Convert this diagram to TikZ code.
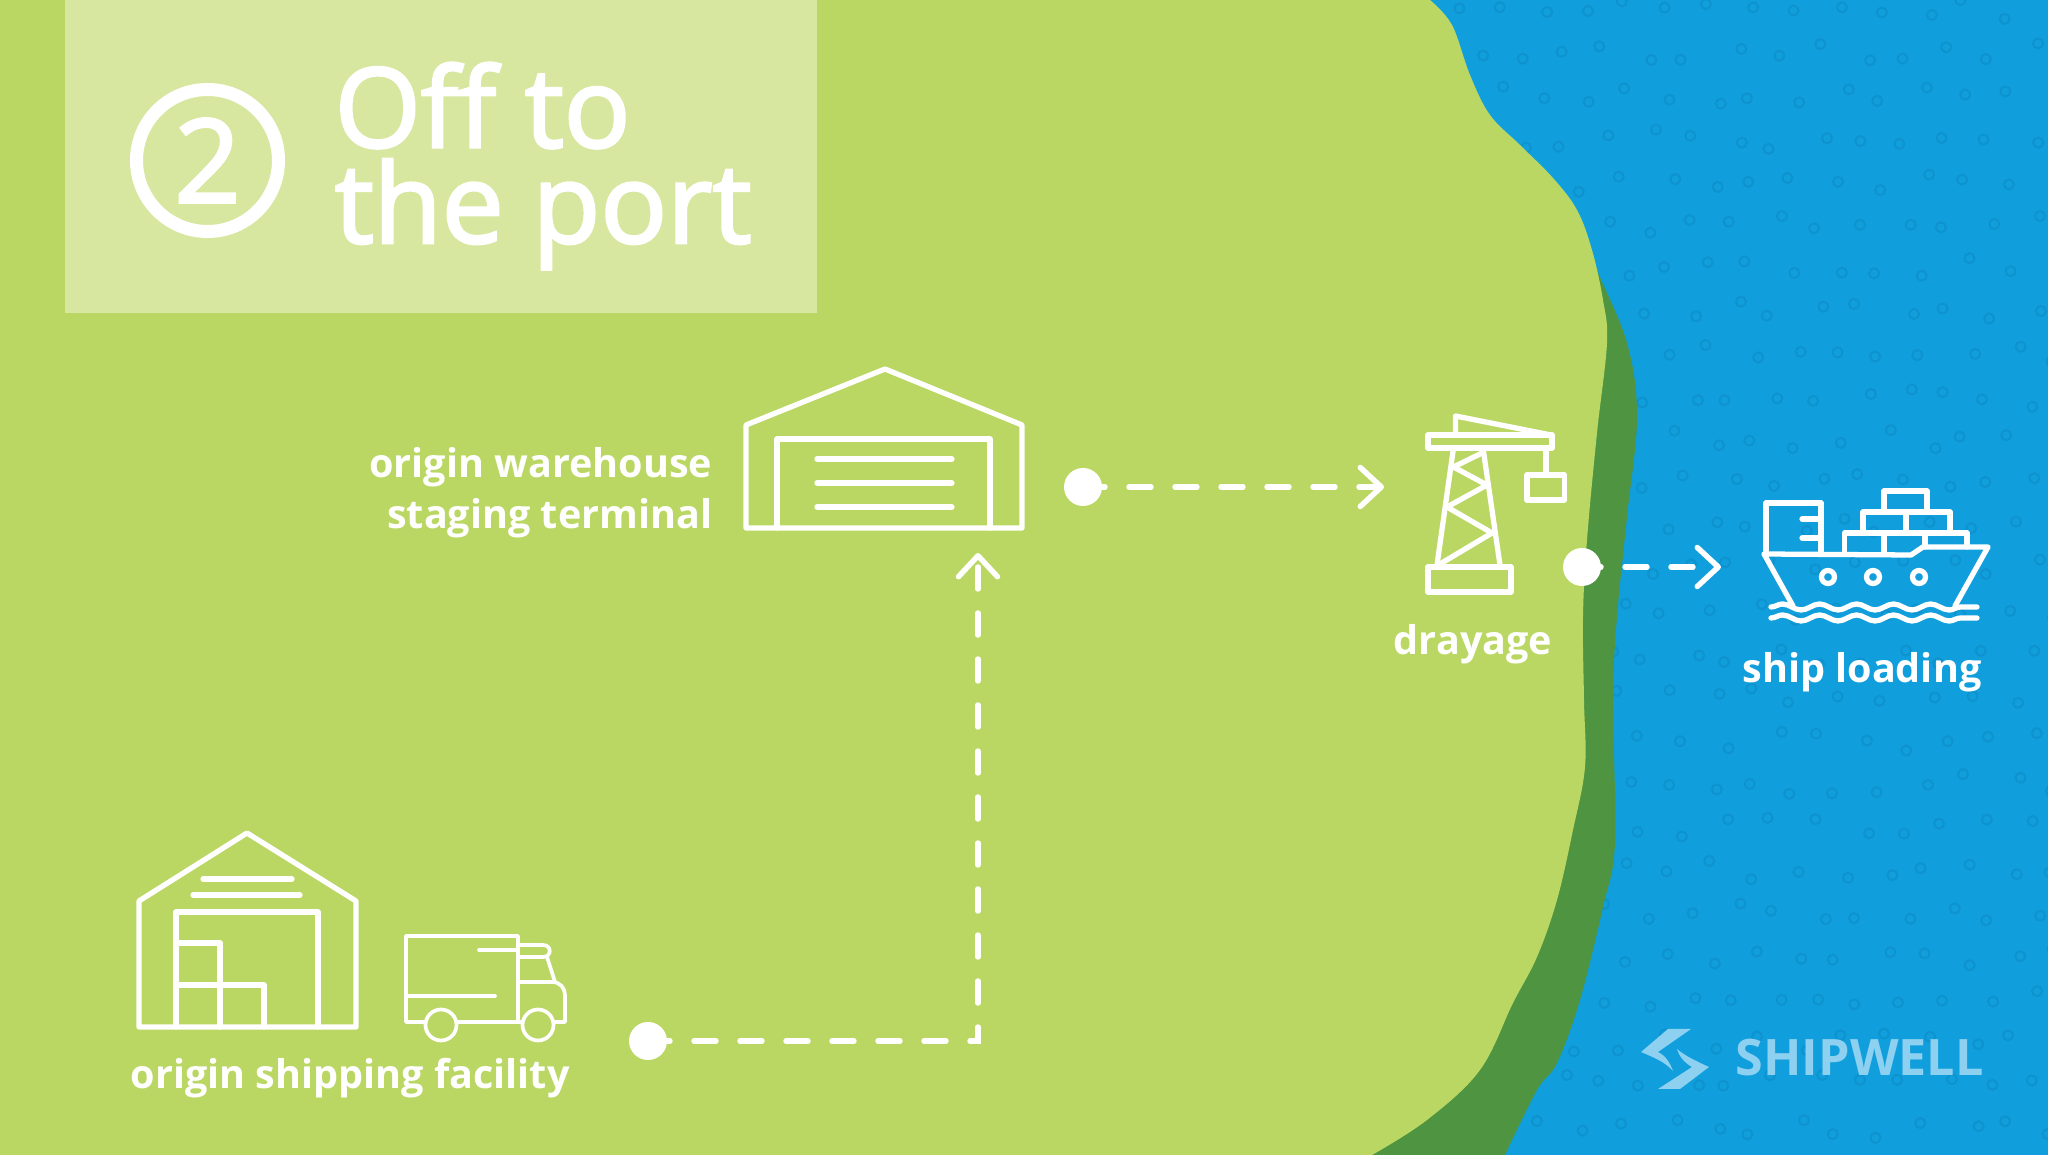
\documentclass[tikz,border=0pt]{standalone}
\usepackage{fontspec}
\setmainfont{Open Sans}
\newfontfamily\headfont[RawFeature={embolden=2.4}]{Open Sans}
\usetikzlibrary{arrows.meta,decorations.pathmorphing}
\definecolor{landlime}{HTML}{BBD763}
\definecolor{landdark}{HTML}{4E9441}
\definecolor{seablue}{HTML}{109FDC}
\definecolor{seadot}{HTML}{0E93CF}
\definecolor{panelpale}{HTML}{D7E79F}
\definecolor{logoblue}{HTML}{8ED0F0}
\tikzset{
  wire/.style={draw=white,line width=1.5pt,line join=round,line cap=round},
  thinwire/.style={draw=white,line width=1.05pt,line join=round,line cap=round},
  flow/.style={draw=white,line width=1.55pt,line cap=round,dash pattern=on 2.2mm off 2.4mm,
               -{Straight Barb[length=2.1mm,width=3.9mm,round]}},
  dot/.style={circle,fill=white,minimum size=3.8mm,inner sep=0},
  lab/.style={text=white,inner sep=0,font=\fontsize{11.25}{14.5}\selectfont\bfseries},
  heading/.style={text=white,inner sep=0,font=\headfont\fontsize{31.5}{27.2}\selectfont,align=left,anchor=base west},
}
\begin{document}
\begin{tikzpicture}[y=-1cm]
  \useasboundingbox (0,0) rectangle (20.48,11.55);
  % sea with its faint rings
  \fill[seablue] (0,0) rectangle (20.48,11.55);
  \pgfmathsetseed{11}
  \foreach \i in {0,...,17}{
    \foreach \j in {0,...,27}{
      \pgfmathsetmacro{\ringx}{14.1+0.43*\i+0.215*mod(\j,2)+0.2*rand*0.5}
      \pgfmathsetmacro{\ringy}{0.1+0.43*\j+0.2*rand*0.5}
      \draw[seadot,line width=0.6pt] (\ringx,\ringy) circle (0.05);
    }
  }
  % land: dark rim first, lime on top
  \fill[landdark] (13,2.4) -- (15.92,2.5) -- plot[smooth,tension=0.6] coordinates {(15.92,2.5) (15.97,2.7) (16.27,3.43)
    (16.37,4.17) (16.27,5.17) (16.17,6.17) (16.13,7.0) (16.15,8.43) (16.03,9.07) (15.80,10.0)
    (15.57,10.63) (15.37,10.9) (15.05,11.55)} -- (13,11.55) -- cycle;
  \fill[landlime] (0,0) -- (14.3,0) -- plot[smooth,tension=0.6] coordinates {(14.3,0) (14.52,0.25) (14.70,0.75)
    (14.90,1.15) (15.20,1.45) (15.53,1.78) (15.77,2.10) (15.92,2.50) (16.03,3.0) (16.07,3.43)
    (15.97,4.33) (15.87,5.40) (15.83,6.17) (15.84,7.0) (15.85,7.67) (15.73,8.30) (15.57,9.0)
    (15.37,9.57) (15.13,10.03) (14.80,10.70) (14.27,11.20) (13.72,11.55)} -- (0,11.55) -- cycle;
  % title panel
  \fill[panelpale] (0.65,0) rectangle (8.17,3.13);
  \node[circle,draw=white,line width=3.7pt,minimum size=14.2mm,inner sep=0,text=white,
        font=\headfont\fontsize{33}{33}\selectfont] (stepnum) at (2.075,1.605) {2};
  \node[heading] (title) at (3.34,2.43) {Off to\\the port};

  % origin warehouse with its door and slats
  \draw[wire] (7.46,5.28) -- (7.46,4.25) -- (8.85,3.69) -- (10.22,4.25) -- (10.22,5.28) -- cycle;
  \draw[wire] (7.77,5.28) -- (7.77,4.39) -- (9.90,4.39) -- (9.90,5.28);
  \foreach \slat in {4.59,4.83,5.07}{
    \draw[wire] (8.17,\slat) -- (9.52,\slat);
  }
  \node[lab,anchor=base east] (wareone) at (7.13,4.78) {origin warehouse};
  \node[lab,anchor=base east] (waretwo) at (7.13,5.29) {staging terminal};

  % origin shipping facility with boxes
  \draw[wire] (1.39,10.27) -- (1.39,9.01) -- (2.47,8.33) -- (3.56,9.01) -- (3.56,10.27) -- cycle;
  \draw[wire] (1.76,10.27) -- (1.76,9.12) -- (3.18,9.12) -- (3.18,10.27);
  \draw[wire] (2.03,8.79) -- (2.92,8.79);
  \draw[wire] (1.93,8.95) -- (3.00,8.95);
  \draw[wire] (1.76,9.43) -- (2.20,9.43) -- (2.20,10.27);
  \draw[wire] (1.76,9.85) -- (2.64,9.85) -- (2.64,10.27);

  % truck
  \draw[thinwire] (4.25,10.22) -- (4.06,10.22) -- (4.06,9.36) -- (5.18,9.36) -- (5.18,10.22);
  \draw[thinwire] (4.57,10.22) -- (5.22,10.22);
  \draw[thinwire] (4.79,9.50) -- (5.18,9.50);
  \draw[thinwire] (4.06,9.96) -- (4.95,9.96);
  \draw[thinwire] (5.18,9.45) -- (5.43,9.45) .. controls (5.52,9.45) and (5.52,9.57) .. (5.43,9.57) -- (5.18,9.57);
  \draw[thinwire] (5.47,9.57) -- (5.55,9.82);
  \draw[thinwire] (5.18,9.82) -- (5.52,9.82) .. controls (5.60,9.82) and (5.65,9.88) .. (5.65,9.95) -- (5.65,10.22) -- (5.54,10.22);
  \draw[thinwire,fill=landlime] (4.41,10.25) circle (0.155);
  \draw[thinwire,fill=landlime] (5.38,10.25) circle (0.155);
  \node[lab,anchor=base west] (originlab) at (1.30,10.89) {origin shipping facility};

  % crane
  \draw[wire] (14.28,4.35) rectangle (15.52,4.48);
  \draw[wire] (14.555,4.35) -- (14.555,4.16) -- (15.51,4.35);
  \draw[wire] (14.535,4.48) -- (14.37,5.65);
  \draw[wire] (14.83,4.48) -- (15.00,5.65);
  \draw[wire] (14.28,5.67) rectangle (15.11,5.92);
  \draw[wire] (14.82,4.53) -- (14.535,4.67) -- (14.87,4.85) -- (14.47,5.07) -- (14.92,5.33) -- (14.40,5.64);
  \draw[wire] (15.46,4.48) -- (15.46,4.75);
  \draw[wire] (15.27,4.75) rectangle (15.645,5.00);
  \node[lab,anchor=base] (craneLab) at (14.73,6.55) {drayage};

  % ship
  \draw[wire] (17.93,6.06) -- (17.64,5.54) -- (19.11,5.55) -- (19.23,5.47) -- (19.88,5.47) -- (19.55,6.06);
  \draw[wire] (17.66,5.54) -- (17.66,5.03) -- (18.21,5.03) -- (18.21,5.54);
  \draw[wire] (18.02,5.19) -- (18.21,5.19);
  \draw[wire] (18.02,5.38) -- (18.21,5.38);
  \draw[wire] (18.445,5.54) -- (18.445,5.33) -- (19.67,5.33) -- (19.67,5.47);
  \draw[wire] (18.84,5.33) -- (18.84,5.54);
  \draw[wire] (19.25,5.33) -- (19.25,5.47);
  \draw[wire] (18.63,5.33) -- (18.63,5.12) -- (19.50,5.12) -- (19.50,5.33);
  \draw[wire] (19.06,5.12) -- (19.06,5.33);
  \draw[wire] (18.84,5.12) -- (18.84,4.91) -- (19.27,4.91) -- (19.27,5.12);
  \foreach \hole in {18.28,18.73,19.19}{
    \draw[wire] (\hole,5.77) circle (0.065);
  }
  \foreach \swell in {6.07,6.18}{
    \draw[wire,decorate,decoration={snake,segment length=3.7mm,amplitude=0.3mm}] (17.71,\swell) -- (19.77,\swell);
  }
  \node[lab,anchor=base] (shipLab) at (18.62,6.83) {ship loading};

  % route dots and dashed legs
  \node[dot] (dota) at (6.48,10.41) {};
  \node[dot] (dotb) at (10.83,4.87) {};
  \node[dot] (dotc) at (15.82,5.67) {};
  \coordinate (tipa) at (9.78,5.53);
  \coordinate (tipb) at (13.84,4.87);
  \coordinate (tipc) at (17.21,5.67);
  \draw[flow] (dota.center) -| (tipa);
  \draw[flow] (dotb.center) -- (tipb);
  \draw[flow,dash phase=0.3mm] (dotc.center) -- (tipc);

  % logo
  \fill[logoblue] (16.41,10.52) -- (16.68,10.29) -- (16.91,10.29) -- (16.58,10.52)
    .. controls (16.66,10.56) and (16.70,10.63) .. (16.73,10.71) .. controls (16.65,10.62) and (16.55,10.58) .. cycle;
  \fill[logoblue] (16.77,10.49) .. controls (16.85,10.56) and (16.98,10.62) .. (17.09,10.67) -- (16.80,10.89) -- (16.58,10.89)
    -- (16.92,10.67) .. controls (16.85,10.63) and (16.80,10.58) .. cycle;
  \node[inner sep=0,anchor=base west,text=logoblue,font=\fontsize{14.3}{14}\selectfont\bfseries] (brand) at (17.35,10.76) {SHIPWELL};
\end{tikzpicture}
\end{document}
